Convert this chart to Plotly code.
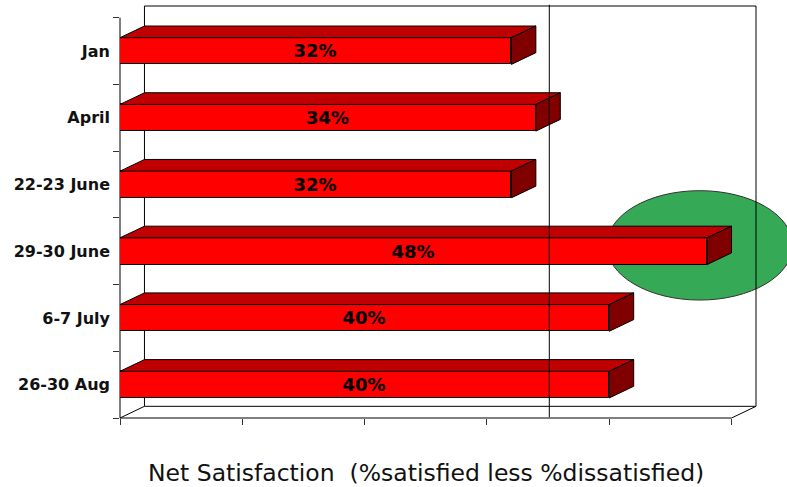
import plotly.graph_objects as go

# ---- data ----
categories = ["Jan", "April", "22-23 June", "29-30 June", "6-7 July", "26-30 Aug"]
net_satisfaction = [32, 34, 32, 48, 40, 40]
x_tick_values = [0, 10, 20, 30, 40, 50]
reference_line_value = 35.1
highlight_category = "29-30 June"
title_text = "Net Satisfaction\u00a0\u00a0(%satisfied less %dissatisfied)"

# ---- geometry (axis units) ----
W, H = 787, 487
XR = [0, 52]
YR = [5.5, -0.675]
DX, DY = 2.0, 0.175      # 3-D depth offset
BAR_W = 0.4

ypos = list(range(len(categories)))


def px(x):
    return (x - XR[0]) / (XR[1] - XR[0])


def py(y):
    return (y - YR[0]) / (YR[1] - YR[0])


fig = go.Figure()

# front faces
fig.add_trace(go.Bar(
    x=net_satisfaction, y=ypos, orientation="h", width=BAR_W,
    marker=dict(color="#FF0000", line=dict(color="#000000", width=1)),
    text=[f"{v}%" for v in net_satisfaction], textposition="inside",
    insidetextanchor="middle", textangle=0, constraintext="none",
    textfont=dict(family="DejaVu Sans", size=18, color="#000000", weight="bold"),
    hoverinfo="skip", showlegend=False, xaxis="x", yaxis="y"))

# top and side faces
for v, c in zip(net_satisfaction, ypos):
    top = c - BAR_W / 2
    bot = c + BAR_W / 2
    fig.add_trace(go.Scatter(
        x=[0, v, v + DX, DX, 0], y=[top, top, top - DY, top - DY, top],
        mode="lines", fill="toself", fillcolor="#C00000",
        line=dict(color="#000000", width=1), hoverinfo="skip", showlegend=False))
    fig.add_trace(go.Scatter(
        x=[v, v + DX, v + DX, v, v], y=[top, top - DY, bot - DY, bot, top],
        mode="lines", fill="toself", fillcolor="#800000",
        line=dict(color="#000000", width=1), hoverinfo="skip", showlegend=False))

shapes = []
# highlight ellipse around the chosen bar
hi = categories.index(highlight_category)
hv = net_satisfaction[hi]
ecx, ecy = hv - 0.6, hi - DY / 2
erx, ery = 7.6, 0.82
shapes.append(dict(type="circle", xref="paper", yref="paper",
                   x0=px(ecx - erx), x1=px(ecx + erx), y0=py(ecy + ery), y1=py(ecy - ery),
                   fillcolor="#35A956", line=dict(color="#333333", width=1), layer="below"))

y_front_bot, y_front_top = YR[0], -0.5
y_back_bot, y_back_top = YR[0] - DY, -0.5 - DY
x_max = x_tick_values[-1]


def seg(x0, y0, x1, y1, layer="below", color="#000000"):
    shapes.append(dict(type="line", xref="paper", yref="paper",
                       x0=px(x0), y0=py(y0), x1=px(x1), y1=py(y1),
                       line=dict(color=color, width=1), layer=layer))


# back wall
seg(DX, y_back_top, x_max + DX, y_back_top)
seg(x_max + DX, y_back_top, x_max + DX, y_back_bot)
seg(DX, y_back_top, DX, y_back_bot)
seg(DX, y_back_bot, x_max + DX, y_back_bot)
# floor
seg(0, y_front_bot, x_max, y_front_bot)
seg(0, y_front_bot, DX, y_back_bot)
seg(x_max, y_front_bot, x_max + DX, y_back_bot)
# front value axis line (left)
seg(0, y_front_top, 0, y_front_bot)
# reference vertical line on top
shapes.append(dict(type="line", xref="paper", yref="paper",
                   x0=px(reference_line_value), x1=px(reference_line_value),
                   y0=py(y_front_bot) + 0.002, y1=1.003,
                   line=dict(color="#000000", width=1), layer="above"))

fig.update_layout(
    width=W, height=H,
    margin=dict(l=120, r=31, t=6, b=69, pad=0),
    paper_bgcolor="#FFFFFF", plot_bgcolor="rgba(0,0,0,0)",
    showlegend=False, bargap=0,
    shapes=shapes,
    xaxis=dict(range=XR, tickvals=x_tick_values, ticks="outside", ticklen=6,
               tickcolor="#333333", tickwidth=1, showticklabels=False,
               showgrid=False, zeroline=False, showline=False, fixedrange=True),
    yaxis=dict(range=YR, tickvals=ypos, ticktext=categories, ticks="",
               tickfont=dict(family="DejaVu Sans", size=16, color="#111111", weight="bold"),
               ticklabelstandoff=9,
               showgrid=False, zeroline=False, showline=False, fixedrange=True),
    yaxis2=dict(range=YR, overlaying="y", side="left", anchor="x",
                tickvals=[p - 0.5 for p in ypos] + [ypos[-1] + 0.5],
                ticks="outside", ticklen=6, tickcolor="#333333", tickwidth=1,
                showticklabels=False, showgrid=False, zeroline=False, showline=False,
                fixedrange=True),
    annotations=[dict(text=title_text, xref="paper", yref="paper",
                      x=(425.5 - 120) / 636, y=(418 - 473) / 412,
                      xanchor="center", yanchor="middle", showarrow=False,
                      font=dict(family="DejaVu Sans", size=23.5, color="#111111"))],
)
# invisible trace attached to yaxis2 so its ticks are drawn
fig.add_trace(go.Scatter(x=[None], y=[None], yaxis="y2", showlegend=False, hoverinfo="skip"))

fig.write_html("out.html")
